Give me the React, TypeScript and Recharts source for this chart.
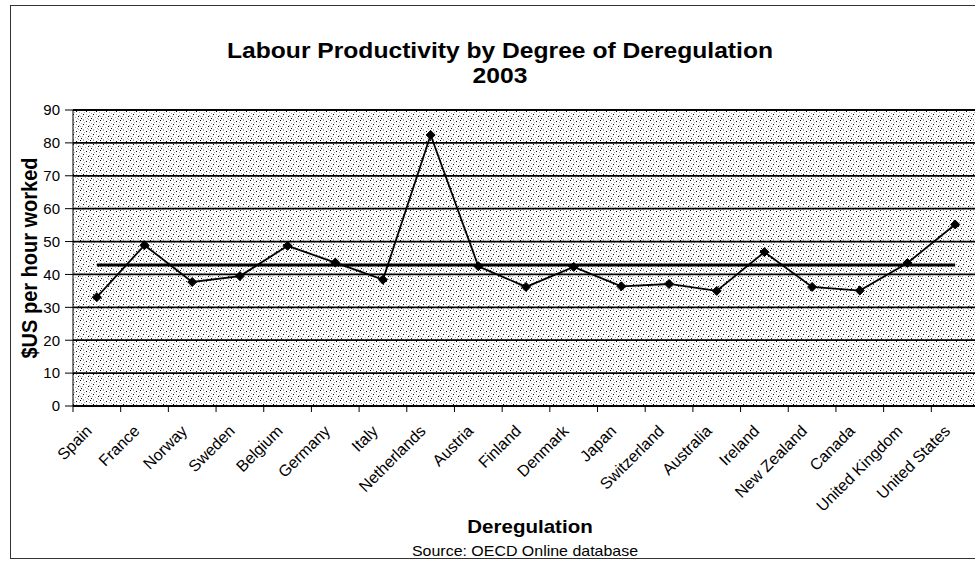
import React from 'react';
import {
  LineChart,
  Line,
  XAxis,
  YAxis,
  CartesianGrid,
  ReferenceLine,
} from 'recharts';

// countries ordered by degree of deregulation
const countries = [
  'Spain', 'France', 'Norway', 'Sweden', 'Belgium', 'Germany', 'Italy',
  'Netherlands', 'Austria', 'Finland', 'Denmark', 'Japan', 'Switzerland',
  'Australia', 'Ireland', 'New Zealand', 'Canada', 'United Kingdom', 'United States',
];

// GDP per hour worked, $US, 2003
const productivity = [
  33.1, 48.9, 37.7, 39.5, 48.7, 43.6, 38.4,
  82.4, 42.5, 36.2, 42.3, 36.4, 37.1,
  35.0, 46.8, 36.2, 35.1, 43.5, 55.2,
];

// overall average drawn across the series
const average = 42.9;

const yTicks = [0, 10, 20, 30, 40, 50, 60, 70, 80, 90];

const data = countries.map((country, i) => ({ country, value: productivity[i] }));

const CHART_W = 990;
const CHART_H = 565;
const MARGIN = { top: 110, right: 11, bottom: 119, left: 0 };
const Y_AXIS_W = 73;
const BAND_HALF = (CHART_W - MARGIN.left - MARGIN.right - Y_AXIS_W) / countries.length / 2;
const FONT = '"Liberation Sans", Arial, Helvetica, sans-serif';

// stipple dots for the plot background: [x, y, colour]
const stippleDots: [number, number, string][] = [
  [0, 0, '#000'], [6, 1, '#000'], [3, 4, '#000'], [8, 6, '#000'], [1, 8, '#000'],
  [3, 0, '#aaa'], [9, 2, '#aaa'], [1, 3, '#aaa'], [6, 4, '#aaa'], [4, 2, '#aaa'],
  [0, 6, '#aaa'], [5, 7, '#aaa'], [8, 9, '#aaa'], [3, 9, '#aaa'], [9, 5, '#aaa'],
  [7, 8, '#aaa'], [2, 6, '#aaa'],
];

const Diamond = (props: any) => {
  const { cx, cy } = props;
  if (cx == null || cy == null) return null;
  const r = 4.5;
  return (
    <polygon
      points={`${cx},${cy - r} ${cx + r},${cy} ${cx},${cy + r} ${cx - r},${cy}`}
      fill="#000"
      stroke="#000"
    />
  );
};

// category label rotated 45deg, with the tick mark drawn on the band edge
const CountryTick = (props: any) => {
  const { x, y, payload } = props;
  const tx = x - 4;
  const ty = y + 18;
  return (
    <g>
      <line x1={x - BAND_HALF} x2={x - BAND_HALF} y1={y - 8} y2={y - 2} stroke="#000" />
      <text
        x={tx}
        y={ty}
        transform={`rotate(-45, ${tx}, ${ty})`}
        textAnchor="end"
        fontSize={16}
        fontFamily={FONT}
        fill="#000"
      >
        {payload.value}
      </text>
    </g>
  );
};

export default function App() {
  return (
    <div
      style={{
        position: 'absolute',
        left: 0,
        top: 0,
        width: 975,
        height: 565,
        overflow: 'hidden',
        background: '#fff',
        fontFamily: FONT,
      }}
    >
      <div
        style={{
          position: 'absolute',
          left: 10,
          top: 5,
          width: 1100,
          height: 552,
          border: '1.5px solid #333',
        }}
      />
      <div style={{ position: 'absolute', left: 0, top: 0 }}>
        <LineChart width={CHART_W} height={CHART_H} data={data} margin={MARGIN}>
          <defs>
            <pattern id="stipple" width="10" height="10" patternUnits="userSpaceOnUse">
              <rect width="10" height="10" fill="#fff" />
              {stippleDots.map(([dx, dy, c], i) => (
                <rect key={i} x={dx} y={dy} width="1" height="1" fill={c} />
              ))}
            </pattern>
          </defs>
          <CartesianGrid
            vertical={false}
            stroke="#000"
            strokeWidth={1.8}
            fill="url(#stipple)"
            fillOpacity={1}
          />
          <XAxis
            dataKey="country"
            interval={0}
            height={40}
            padding={{ left: BAND_HALF, right: BAND_HALF }}
            tickLine={false}
            axisLine={{ stroke: '#000', strokeWidth: 1.8 }}
            tick={<CountryTick />}
          />
          <YAxis
            width={Y_AXIS_W}
            domain={[0, 90]}
            ticks={yTicks}
            interval={0}
            tickSize={8}
            tickMargin={5}
            axisLine={{ stroke: '#000' }}
            tickLine={{ stroke: '#000' }}
            tick={{ fill: '#000', fontSize: 15, fontFamily: FONT }}
          />
          <ReferenceLine
            segment={[
              { x: countries[0], y: average },
              { x: countries[countries.length - 1], y: average },
            ]}
            stroke="#000"
            strokeWidth={3}
          />
          <Line
            type="linear"
            dataKey="value"
            stroke="#000"
            strokeWidth={1.8}
            dot={<Diamond />}
            activeDot={false}
            isAnimationActive={false}
          />
        </LineChart>
      </div>
      <svg
        width={975}
        height={565}
        style={{ position: 'absolute', left: 0, top: 0, pointerEvents: 'none' }}
        fontFamily={FONT}
      >
        <g transform="translate(500 58) scale(1.12 1)">
          <text textAnchor="middle" fontSize={22} fontWeight="bold">
            Labour Productivity by Degree of Deregulation
          </text>
        </g>
        <g transform="translate(500 83) scale(1.12 1)">
          <text textAnchor="middle" fontSize={22} fontWeight="bold">
            2003
          </text>
        </g>
        <g transform="translate(37 258) scale(1.12 1) rotate(-90)">
          <text textAnchor="middle" fontSize={20} fontWeight="bold">
            $US per hour worked
          </text>
        </g>
        <g transform="translate(530 533) scale(1.14 1)">
          <text textAnchor="middle" fontSize={18} fontWeight="bold">
            Deregulation
          </text>
        </g>
        <g transform="translate(525 556) scale(1.14 1)">
          <text textAnchor="middle" fontSize={14}>
            Source:  OECD Online database
          </text>
        </g>
      </svg>
    </div>
  );
}
